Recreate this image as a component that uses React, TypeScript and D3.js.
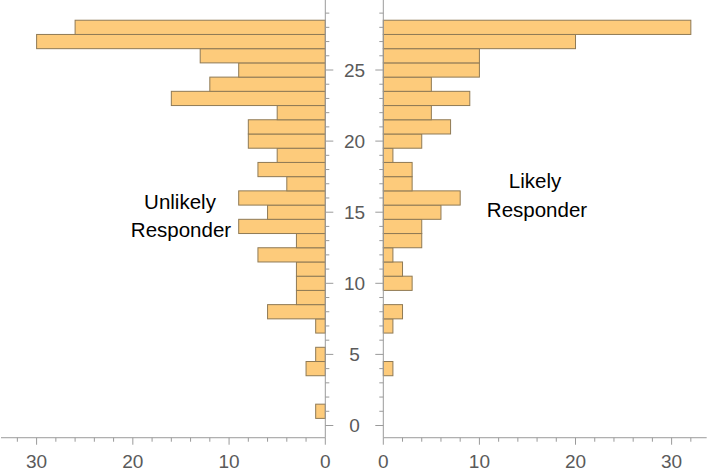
import React from "react";
import * as d3 from "d3";

const bins = [1, 2, 3, 4, 5, 6, 7, 8, 9, 10, 11, 12, 13, 14, 15, 16, 17, 18, 19, 20, 21, 22, 23, 24, 25, 26, 27, 28];
const unlikelyCounts = [1, 0, 0, 2, 1, 0, 1, 6, 3, 3, 3, 7, 3, 9, 6, 9, 4, 7, 5, 8, 8, 5, 16, 12, 9, 13, 30, 26];
const likelyCounts = [0, 0, 0, 1, 0, 0, 1, 2, 0, 3, 2, 1, 4, 4, 6, 8, 3, 3, 1, 4, 7, 5, 9, 5, 10, 10, 20, 32];
const xTickLabels = [0, 10, 20, 30];
const yTickLabels = [0, 5, 10, 15, 20, 25];
const leftLabel = ["Unlikely", "Responder"];
const rightLabel = ["Likely", "Responder"];

const W = 709;
const H = 473;
const AXIS = "#9a9a9a";
const TICKTXT = "#5a5a5a";
const FILL = "#fdcb7b";
const EDGE = "#8f7a55";
const FONT = "'Liberation Sans', Arial, sans-serif";

export default function App() {
  const y = d3.scaleLinear().domain([0, 30]).range([425.5, 425.5 - 30 * 14.22]);
  const xL = d3.scaleLinear().domain([0, 33.7]).range([325.3, 1]);
  const xR = d3.scaleLinear().domain([0, 33.65]).range([383.3, 706.7]);
  const yMin = -0.86;
  const axisY = y(yMin);
  const minorX = d3.range(0, 34, 2);
  const minorY = d3.range(0, 30, 1);

  return (
    <svg width={W} height={H} style={{ position: "absolute", left: 0, top: 0, background: "#fff" }}>
      {bins.map((b, i) =>
        unlikelyCounts[i] > 0 ? (
          <rect
            key={"l" + b}
            x={xL(unlikelyCounts[i])}
            y={y(b + 0.5)}
            width={xL(0) - xL(unlikelyCounts[i])}
            height={y(b - 0.5) - y(b + 0.5)}
            fill={FILL}
            stroke={EDGE}
            strokeWidth={1}
          />
        ) : null
      )}
      {bins.map((b, i) =>
        likelyCounts[i] > 0 ? (
          <rect
            key={"r" + b}
            x={xR(0)}
            y={y(b + 0.5)}
            width={xR(likelyCounts[i]) - xR(0)}
            height={y(b - 0.5) - y(b + 0.5)}
            fill={FILL}
            stroke={EDGE}
            strokeWidth={1}
          />
        ) : null
      )}

      <line x1={xL(33.7)} x2={xL(0)} y1={axisY} y2={axisY} stroke={AXIS} strokeWidth={1} />
      <line x1={xR(0)} x2={xR(33.65)} y1={axisY} y2={axisY} stroke={AXIS} strokeWidth={1} />
      {minorX.map((v) => {
        const major = v % 10 === 0;
        const len = major ? 7 : 4;
        return (
          <g key={"xt" + v}>
            <line x1={xL(v)} x2={xL(v)} y1={axisY} y2={axisY + len} stroke={AXIS} strokeWidth={1} />
            <line x1={xR(v)} x2={xR(v)} y1={axisY} y2={axisY + len} stroke={AXIS} strokeWidth={1} />
          </g>
        );
      })}
      {xTickLabels.map((v) => (
        <g key={"xl" + v} fontFamily={FONT} fontSize={19} fill={TICKTXT} textAnchor="middle">
          <text x={xL(v)} y={468}>{v}</text>
          <text x={xR(v)} y={468}>{v}</text>
        </g>
      ))}

      <line x1={xL(0)} x2={xL(0)} y1={0} y2={axisY} stroke={AXIS} strokeWidth={1} />
      <line x1={xR(0)} x2={xR(0)} y1={0} y2={axisY} stroke={AXIS} strokeWidth={1} />
      {minorY.map((v) => {
        const major = v % 5 === 0;
        const len = major ? 8 : 4;
        return (
          <g key={"yt" + v}>
            <line x1={xL(0)} x2={xL(0) + len} y1={y(v)} y2={y(v)} stroke={AXIS} strokeWidth={1} />
            <line x1={xR(0) - len} x2={xR(0)} y1={y(v)} y2={y(v)} stroke={AXIS} strokeWidth={1} />
          </g>
        );
      })}
      {yTickLabels.map((v) => (
        <text
          key={"yl" + v}
          x={354.5}
          y={y(v)}
          dy="0.35em"
          textAnchor="middle"
          fontFamily={FONT}
          fontSize={19}
          fill={TICKTXT}
        >
          {v}
        </text>
      ))}

      <g fontFamily={FONT} fontSize={20.5} fill="#000" textAnchor="middle">
        <text x={180} y={209}>{leftLabel[0]}</text>
        <text x={181} y={236.5}>{leftLabel[1]}</text>
        <text x={535} y={188}>{rightLabel[0]}</text>
        <text x={537} y={216.5}>{rightLabel[1]}</text>
      </g>
    </svg>
  );
}
